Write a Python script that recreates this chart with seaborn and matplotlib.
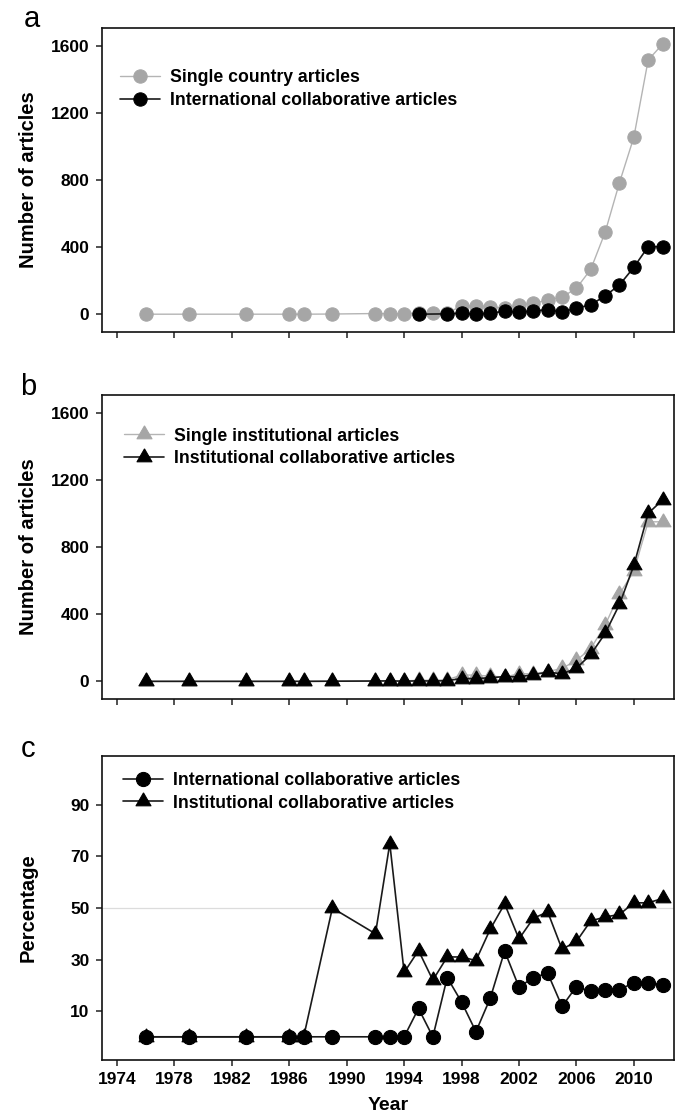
import numpy as np
import pandas as pd
import matplotlib
matplotlib.use("Agg")
import matplotlib.pyplot as plt
import seaborn as sns

sns.set_theme(style="ticks")
plt.rcParams['font.family'] = ['Liberation Sans', 'DejaVu Sans']
plt.rcParams.update({"text.color": "black", "axes.labelcolor": "black",
                     "xtick.color": "black", "ytick.color": "black"})

# ---------------- data ----------------
years = [1976, 1979, 1983, 1986, 1987, 1989, 1992, 1993, 1994, 1995, 1996, 1997,
         1998, 1999, 2000, 2001, 2002, 2003, 2004, 2005, 2006, 2007, 2008, 2009,
         2010, 2011, 2012]

# panel a
single_country = [1, 1, 1, 1, 1, 2, 5, 4, 4, 8, 9, 10,
                  48, 52, 45, 36, 58, 66, 85, 103, 155, 268, 488, 784,
                  1054, 1514, 1609]
international = [np.nan, np.nan, np.nan, np.nan, np.nan, np.nan, np.nan, np.nan, np.nan, 1, np.nan, 3,
                 7, 1, 8, 18, 14, 20, 28, 14, 37, 57, 110, 175,
                 280, 403, 403]

# panel b
single_institutional = [1, 1, 1, 1, 1, 1, 3, 1, 3, 6, 7, 9,
                        38, 37, 31, 26, 45, 46, 58, 77, 125, 195, 335, 520,
                        655, 950, 950]
institutional_collab = [0, 0, 0, 0, 0, 1, 2, 3, 1, 3, 2, 4,
                        17, 16, 22, 28, 27, 40, 55, 45, 78, 160, 285, 458,
                        690, 1000, 1080]

# panel c (percentages)
pct_international = [0, 0, 0, 0, 0, 0, 0, 0, 0, 11, 0, 23,
                     13.5, 2, 15, 33.3, 19.3, 23, 24.7, 11.8, 19.5, 17.6, 18.3, 18.3,
                     21, 21, 20.2]
pct_institutional = [0, 0, 0, 0, 0, 50, 40, 75, 25, 33.5, 22, 31,
                     31, 29.6, 41.8, 51.6, 38, 46, 48.5, 34, 37, 45, 46.5, 47.5,
                     52, 52, 53.7]

xticks = [1974, 1978, 1982, 1986, 1990, 1994, 1998, 2002, 2006, 2010]
yticks_counts = [0, 400, 800, 1200, 1600]
yticks_pct = [10, 30, 50, 70, 90]

labels_a = ["Single country articles", "International collaborative articles"]
labels_b = ["Single institutional articles", "Institutional collaborative articles"]
labels_c = ["International collaborative articles", "Institutional collaborative articles"]

# ---------------- figure ----------------
W, H = 683, 1114
fig = plt.figure(figsize=(W / 100, H / 100), dpi=100)
fig.patch.set_facecolor("white")

def axes_px(left, top, right, bottom):
    return fig.add_axes([left / W, 1 - bottom / H, (right - left) / W, (bottom - top) / H])

axA = axes_px(102, 28, 674, 332)
axB = axes_px(102, 395, 674, 699)
axC = axes_px(102, 756, 674, 1060)

GRAY = "#a6a6a6"
GRAYLINE = "#b4b4b4"
BLACK = "#000000"
BLACKLINE = "#1a1a1a"

# equilateral triangle centred on its centroid
TRI = [(0.0, 1.0), (-0.866, -0.5), (0.866, -0.5), (0.0, 1.0)]

df_a = pd.DataFrame({"year": years, "single": single_country, "intl": international})
df_b = pd.DataFrame({"year": years, "single": single_institutional, "collab": institutional_collab})
df_c = pd.DataFrame({"year": years, "intl": pct_international, "inst": pct_institutional})

ms = 9.6
mt = 12.5
# panel a
sns.lineplot(data=df_a, x="year", y="single", ax=axA, color=GRAYLINE, lw=1.0,
             marker="o", markersize=ms, markerfacecolor=GRAY, markeredgecolor=GRAY,
             label=labels_a[0], zorder=2)
sns.lineplot(data=df_a.dropna(), x="year", y="intl", ax=axA, color=BLACKLINE, lw=1.2,
             marker="o", markersize=ms, markerfacecolor=BLACK, markeredgecolor=BLACK,
             label=labels_a[1], zorder=3)
# panel b
sns.lineplot(data=df_b, x="year", y="single", ax=axB, color=GRAYLINE, lw=1.0,
             marker=TRI, markersize=mt, markerfacecolor=GRAY, markeredgecolor=GRAY,
             label=labels_b[0], zorder=2)
sns.lineplot(data=df_b, x="year", y="collab", ax=axB, color=BLACKLINE, lw=1.2,
             marker=TRI, markersize=mt, markerfacecolor=BLACK, markeredgecolor=BLACK,
             label=labels_b[1], zorder=3)
# panel c
axC.axhline(50, color="#dcdcdc", lw=0.9, zorder=1)
sns.lineplot(data=df_c, x="year", y="intl", ax=axC, color=BLACKLINE, lw=1.2,
             marker="o", markersize=ms + 0.6, markerfacecolor=BLACK, markeredgecolor=BLACK,
             label=labels_c[0], zorder=3)
sns.lineplot(data=df_c, x="year", y="inst", ax=axC, color=BLACKLINE, lw=1.2,
             marker=TRI, markersize=mt, markerfacecolor=BLACK, markeredgecolor=BLACK,
             label=labels_c[1], zorder=2)

tick_fs = 12.5
for ax in (axA, axB, axC):
    ax.set_xlim(1972.95, 2012.8)
    ax.set_xticks(xticks)
    for s in ax.spines.values():
        s.set_visible(True)
        s.set_color("#111111")
        s.set_linewidth(1.2)
    ax.tick_params(axis="both", direction="out", length=4, width=1.1, color="#222222",
                   labelsize=tick_fs, pad=5)
    ax.set_xlabel("")
    ax.set_facecolor("white")
    ax.grid(False)

for ax in (axA, axB):
    ax.set_ylim(-105, 1705)
    ax.set_yticks(yticks_counts)
    ax.set_yticklabels([str(v) for v in yticks_counts], fontweight="bold", fontsize=tick_fs)
    ax.set_xticklabels([])
    ax.set_ylabel("Number of articles", fontsize=14.5, fontweight="bold")
    ax.yaxis.set_label_coords(-0.112, 0.5)

axC.set_ylim(-9, 109)
axC.set_yticks(yticks_pct)
axC.set_yticklabels([str(v) for v in yticks_pct], fontweight="bold", fontsize=tick_fs)
axC.set_xticklabels([str(v) for v in xticks], fontweight="bold", fontsize=tick_fs)
axC.set_ylabel("Percentage", fontsize=14.5, fontweight="bold")
axC.yaxis.set_label_coords(-0.112, 0.5)
axC.set_xlabel("Year", fontsize=14, fontweight="bold")
axC.xaxis.set_label_coords(0.5, -0.122)
axC.xaxis.label.set_va("top")

leg_kw = dict(loc="upper left", frameon=False, borderpad=0, borderaxespad=0,
              handlelength=2.3, handletextpad=0.55, labelspacing=0.33,
              prop={"size": 12.7, "weight": "bold"})
axA.legend(bbox_to_anchor=(0.031, 0.865), **leg_kw)
axB.legend(bbox_to_anchor=(0.038, 0.893), **leg_kw)
axC.legend(bbox_to_anchor=(0.036, 0.948), **leg_kw)

for txt, (x, y) in zip("abc", [(32, 19), (28, 387), (28, 749)]):
    fig.text(x / W, 1 - y / H, txt, fontsize=21, ha="center", va="center")

fig.savefig("out.png", dpi=100)
